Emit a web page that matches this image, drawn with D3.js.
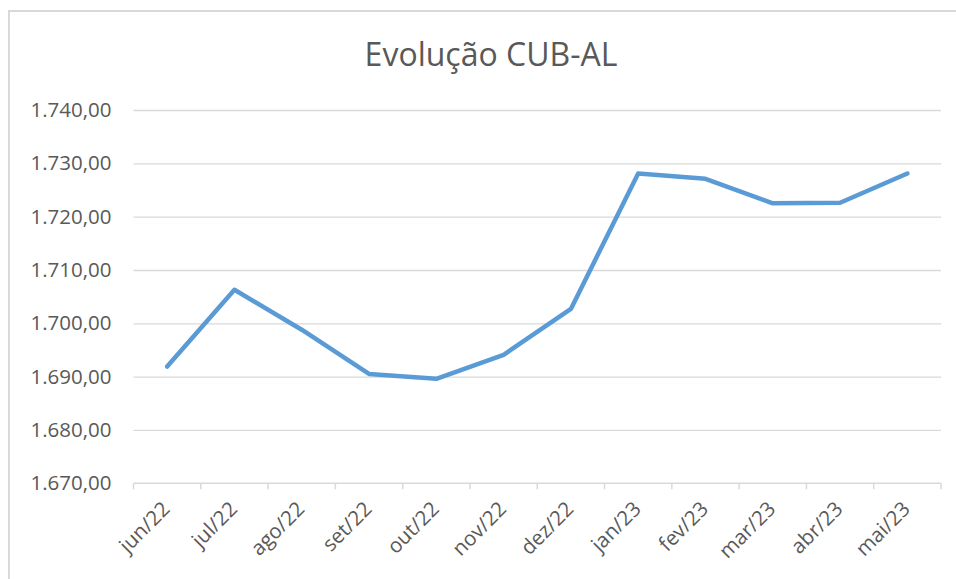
<!DOCTYPE html>
<meta charset="utf-8" />
<script src="https://d3js.org/d3.v7.min.js"></script>
<style>
    body { margin: 0; background: #fff; }
</style>
<div id="my_dataviz"></div>

<script>
    // data
    const months = ['jun/22', 'jul/22', 'ago/22', 'set/22', 'out/22', 'nov/22',
        'dez/22', 'jan/23', 'fev/23', 'mar/23', 'abr/23', 'mai/23']
    const cub = [1691.9, 1706.3, 1698.8, 1690.5, 1689.6, 1694.1,
        1702.7, 1728.1, 1727.1, 1722.5, 1722.6, 1728.1]
    const yTicks = [1670, 1680, 1690, 1700, 1710, 1720, 1730, 1740]
    const title = 'Evolução CUB-AL'

    const W = 956, H = 579
    const margin = { top: 110, right: 15, bottom: 96, left: 133.5 }
    const width = 941 - margin.left
    const height = 483.3 - margin.top
    const font = 'Open Sans'

    // 1.740,00 style
    const fmt = (v) => d3.format(',.2f')(v)
        .replace(/,/g, '#').replace('.', ',').replace(/#/g, '.')

    const svg = d3.select('#my_dataviz')
        .append('svg')
        .attr('width', W)
        .attr('height', H)

    // chart border
    svg.append('rect')
        .attr('x', 9).attr('y', 11)
        .attr('width', W + 10).attr('height', H + 10)
        .attr('fill', 'none')
        .attr('stroke', '#d9d9d9')
        .attr('stroke-width', 2)

    svg.append('text')
        .attr('x', 491).attr('y', 66)
        .attr('text-anchor', 'middle')
        .attr('font-family', font)
        .attr('font-size', '32px')
        .attr('fill', '#595959')
        .text(title)

    const g = svg.append('g')
        .attr('transform', `translate(${margin.left},${margin.top})`)

    const x = d3.scaleBand().domain(months).range([0, width])
    const y = d3.scaleLinear().domain([1670, 1740]).range([height, 0])

    // gridlines + y labels
    g.append('g')
        .call(d3.axisLeft(y).tickValues(yTicks).tickSize(-width).tickPadding(22).tickFormat(fmt))
        .call((a) => a.select('.domain').remove())
        .call((a) => a.selectAll('line').attr('stroke', '#d9d9d9').attr('stroke-width', 1.3)
            .filter((d) => d === 1670).remove())
        .call((a) => a.selectAll('text')
            .attr('font-family', font)
            .attr('font-size', '20.5px')
            .attr('fill', '#595959'))

    // x axis with ticks at category boundaries
    const xa = g.append('g').attr('transform', `translate(0,${height})`)
    xa.append('line')
        .attr('x1', 0).attr('x2', width)
        .attr('stroke', '#d9d9d9').attr('stroke-width', 1.5)
    xa.selectAll('.bt')
        .data(d3.range(months.length + 1))
        .join('line')
        .attr('x1', (i) => i * x.step()).attr('x2', (i) => i * x.step())
        .attr('y1', 0).attr('y2', 6)
        .attr('stroke', '#d9d9d9').attr('stroke-width', 1.5)
    xa.selectAll('text')
        .data(months)
        .join('text')
        .attr('transform', (d) => `translate(${x(d) + x.bandwidth() / 2 + 4},${27}) rotate(-45)`)
        .attr('text-anchor', 'end')
        .attr('font-family', font)
        .attr('font-size', '20.5px')
        .attr('fill', '#595959')
        .text((d) => d)

    // the line
    g.append('path')
        .datum(cub)
        .attr('fill', 'none')
        .attr('stroke', '#5b9bd5')
        .attr('stroke-width', 4.5)
        .attr('stroke-linecap', 'round')
        .attr('stroke-linejoin', 'round')
        .attr('d', d3.line()
            .x((d, i) => x(months[i]) + x.bandwidth() / 2)
            .y((d) => y(d)))
</script>
